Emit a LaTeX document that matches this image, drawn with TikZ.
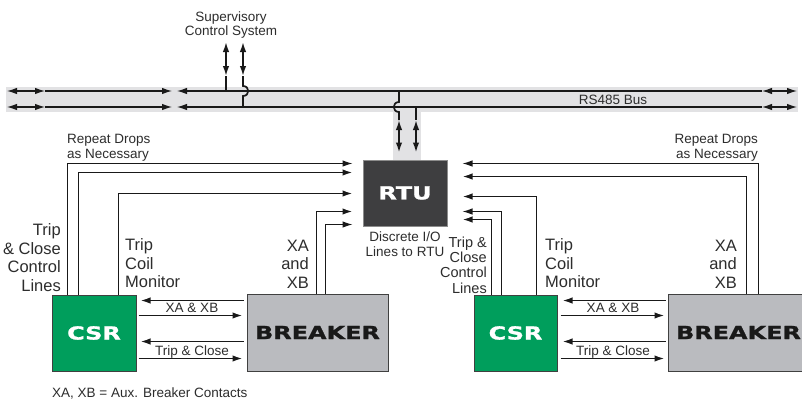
\documentclass[tikz,border=0pt]{standalone}
\usepackage{fontspec}
\setmainfont{Liberation Sans}
\newfontfamily\widefont{DejaVu Sans}[FakeStretch=1.33, BoldFeatures={FakeBold=1.3}]
\usetikzlibrary{arrows.meta,calc}
\definecolor{csrgreen}{RGB}{0,158,92}
\definecolor{brkgray}{RGB}{186,187,191}
\definecolor{rtugray}{RGB}{62,62,64}
\definecolor{busgray}{RGB}{226,226,228}
\definecolor{txt}{RGB}{45,45,45}
\begin{document}
\begin{tikzpicture}[x=1pt,y=-1pt,
  tip/.style={-{Latex[length=10pt,width=6.5pt]}},
  tiptwo/.style={{Latex[length=10pt,width=6.5pt]}-{Latex[length=10pt,width=6.5pt]}},
  tipback/.style={{Latex[length=10pt,width=6.5pt]}-},
  thick wire/.style={line width=1.7pt, draw=black!90},
  thin wire/.style={line width=1.1pt, draw=black!90},
  buswire/.style={line width=1.2pt, draw=black!90},
  box/.style={draw=black!75, line width=1pt, inner sep=0pt},
  bigtxt/.style={font=\fontsize{16.5}{18.5}\selectfont, text=txt, inner sep=0pt},
  midtxt/.style={font=\fontsize{14.5}{15.3}\selectfont, text=txt, inner sep=0pt},
  smalltxt/.style={font=\fontsize{13.5}{14.5}\selectfont, text=txt, inner sep=0pt},
  boxlabel/.style={font=\widefont\bfseries\fontsize{18}{20}\selectfont}
]
\path[use as bounding box, fill=white] (0,0) rectangle (802,402);
\clip (0,0) rectangle (802,402);

% bus band
\fill[busgray] (6,87) rectangle (798,112);
\fill[busgray] (393,112) rectangle (421,160);

% boxes
\node[box, fill=rtugray, minimum width=84pt, minimum height=66pt, draw=black!45] (rtu) at (405,193) {};
\node[boxlabel, text=white] (rtulabel) at (rtu.center) {RTU};
\node[box, fill=csrgreen, minimum width=84pt, minimum height=76pt] (csrL) at (94,333) {};
\node[boxlabel, text=white] (csrLlabel) at (csrL.center) {CSR};
\node[box, fill=brkgray, minimum width=141pt, minimum height=77pt] (brkL) at (317.5,332.5) {};
\node[boxlabel, text=black!90] (brkLlabel) at (brkL.center) {BREAKER};
\node[box, fill=csrgreen, minimum width=83pt, minimum height=76pt] (csrR) at (515.5,333) {};
\node[boxlabel, text=white] (csrRlabel) at (csrR.center) {CSR};
\node[box, fill=brkgray, minimum width=141pt, minimum height=77pt] (brkR) at (738.5,332.5) {};
\node[boxlabel, text=black!90] (brkRlabel) at (brkR.center) {BREAKER};

% bus lines
\draw[buswire, tiptwo] (7,91) -- (45,91);
\draw[buswire, tip] (45,91) -- (172,91);
\draw[buswire, tipback] (177,91) -- (762,91);
\draw[buswire, tiptwo] (762,91) -- (797,91);
\draw[thin wire, tiptwo] (7,107) -- (45,107);
\draw[thin wire, tip] (45,107) -- (172,107);
\draw[thin wire, tipback] (177,107) -- (762,107);
\draw[thin wire, tiptwo] (762,107) -- (797,107);
\node[smalltxt] (bus) at (613,100) {RS485 Bus};

% supervisory
\node[smalltxt, align=center] (sup) at (231,25) {Supervisory\\Control System};
\coordinate (s1) at (226,42);
\coordinate (s2) at (243,42);
\draw[thick wire, tiptwo] (s1) -- ($(s1)+(0,34)$);
\draw[thick wire] ($(s1)+(0,34)$) -- (226,91);
\draw[thick wire, tiptwo] (s2) -- ($(s2)+(0,34)$);
\draw[thick wire] ($(s2)+(0,34)$) -- (243,86) .. controls (250,86) and (250,96) .. (243,96) -- (243,107);

% RTU bus drop
\coordinate (r1) at (399,120);
\coordinate (r2) at (416,120);
\draw[thick wire] (399,91) -- (399,102) .. controls (392,102) and (392,112) .. (399,112) -- (r1);
\draw[thick wire, tiptwo] (r1) -- ($(rtu.north)+(-6,-7)$);
\draw[thick wire] (416,107) -- (r2);
\draw[thick wire, tiptwo] (r2) -- ($(rtu.north)+(11,-7)$);

% left wires to RTU
\draw[thin wire, tip] ($(csrL.north west)+(16,0)$) |- ($(rtu.north west)+(-10,4)$);
\draw[thick wire, tip] ($(csrL.north west)+(27,0)$) |- ($(rtu.north west)+(-10,13)$);
\draw[thick wire, tip] ($(csrL.north west)+(67,0)$) |- ($(rtu.north west)+(-10,34)$);
\draw[thick wire, tip] ($(brkL.north west)+(70,0)$) |- ($(rtu.north west)+(-10,52)$);
\draw[thin wire, tip] ($(brkL.north west)+(79,0)$) |- ($(rtu.north west)+(-10,65)$);

% right wires to RTU
\draw[thin wire, tip] ($(brkR.north west)+(91,0)$) |- ($(rtu.north east)+(15,4)$);
\draw[thick wire, tip] ($(brkR.north west)+(79,0)$) |- ($(rtu.north east)+(15,17)$);
\draw[thick wire, tip] ($(csrR.north west)+(63,0)$) |- ($(rtu.north east)+(15,37)$);
\draw[thin wire, tip] ($(csrR.north west)+(28,0)$) |- ($(rtu.north east)+(15,52)$);
\draw[thick wire, tip] ($(csrR.north west)+(18,0)$) |- ($(rtu.north east)+(15,60)$);

% CSR <-> breaker left
\draw[thick wire, tip] ($(brkL.north west)+(-3,7)$) -- ($(csrL.east |- brkL.north)+(4,7)$);
\draw[thick wire, tip] ($(csrL.east |- brkL.north)+(2,22)$) -- ($(brkL.north west)+(-4,22)$);
\draw[thick wire, tip] ($(brkL.north west)+(-3,48)$) -- ($(csrL.east |- brkL.north)+(4,48)$);
\draw[thick wire, tip] ($(csrL.east |- brkL.north)+(2,65)$) -- ($(brkL.north west)+(-4,65)$);
\node[smalltxt] (xaL) at (192,308) {XA \& XB};
\node[smalltxt] (tcL) at (192,352) {Trip \& Close};

% CSR <-> breaker right
\draw[thick wire, tip] ($(brkR.north west)+(-2,7)$) -- ($(csrR.east |- brkR.north)+(5,7)$);
\draw[thick wire, tip] ($(csrR.east |- brkR.north)+(3,22)$) -- ($(brkR.north west)+(-3,22)$);
\draw[thick wire, tip] ($(brkR.north west)+(-2,48)$) -- ($(csrR.east |- brkR.north)+(5,48)$);
\draw[thick wire, tip] ($(csrR.east |- brkR.north)+(3,65)$) -- ($(brkR.north west)+(-3,65)$);
\node[smalltxt] (xaR) at (613,308) {XA \& XB};
\node[smalltxt] (tcR) at (613,352) {Trip \& Close};

% labels
\node[bigtxt, align=right, anchor=east] (tclL) at (61,257.5) {Trip\\\& Close\\Control\\Lines};
\node[bigtxt, align=left, anchor=west] (tcmL) at (125,263.5) {Trip\\Coil\\Monitor};
\node[bigtxt, align=right, anchor=east] (xabL) at (309,264) {XA\\and\\XB};
\node[smalltxt, align=left, anchor=west] (rdL) at (67,148) {Repeat Drops\\as Necessary};
\node[midtxt, align=right, anchor=east] (tclR) at (487,265) {Trip \&\\Close\\Control\\Lines};
\node[bigtxt, align=left, anchor=west] (tcmR) at (545,263.5) {Trip\\Coil\\Monitor};
\node[bigtxt, align=right, anchor=east] (xabR) at (737,264) {XA\\and\\XB};
\node[smalltxt, align=right, anchor=east] (rdR) at (758,148) {Repeat Drops\\as Necessary};
\node[smalltxt, align=center] (dio) at (405,244) {Discrete I/O\\Lines to RTU};
\node[smalltxt, anchor=west] (note) at (52,393) {XA, XB = Aux. Breaker Contacts};
\end{tikzpicture}
\end{document}
